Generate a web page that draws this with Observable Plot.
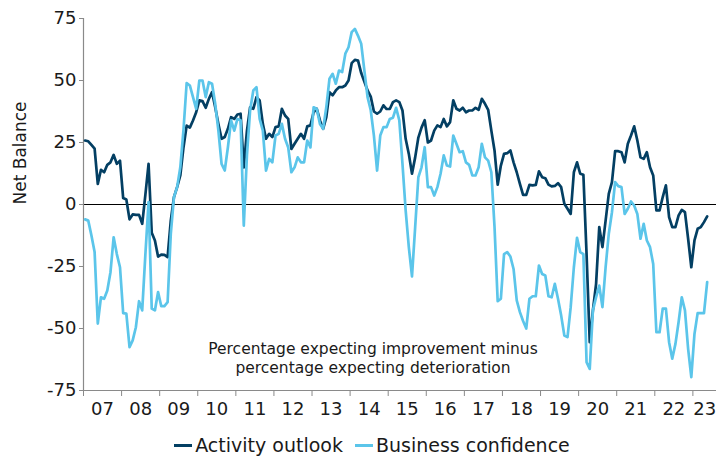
<!DOCTYPE html>
<html><head><meta charset="utf-8">
<script src="https://cdn.jsdelivr.net/npm/d3@7"></script>
<script src="https://cdn.jsdelivr.net/npm/@observablehq/plot@0.6"></script>
<style>
body{margin:0;background:#fff;font-family:"DejaVu Sans",Verdana,sans-serif;overflow:hidden;}
#chart svg{display:block;}
#legend{display:flex;justify-content:center;align-items:center;font-size:19px;line-height:22px;color:#1a1a1a;height:30px;margin-top:5px;padding-left:27px;}
#legend .item{display:flex;align-items:center;margin:0 6px;}
#legend .sw{display:inline-block;width:18px;height:3px;margin-right:3px;}
</style></head><body>
<div id="chart"></div>
<div id="legend"></div>
<script>
// Monthly series starting January 2007
const startYear = 2007;
const activity = [
25.8,25.5,24,22.5,8.3,14,13,16,17,20,16.4,17.7,
2.6,2,-6,-4,-4.2,-4.2,-7.8,4,16.4,-11.4,-14.5,-21,
-20.2,-20.3,-21.2,-6.5,3,7,11.7,23,31.8,31,33.9,37.2,
42,41.7,39,42.6,45.3,39.2,32.5,26.5,27.2,30.5,35.2,34.5,
36.3,36.6,15,29.8,39.2,38.6,43.3,42,32.5,26.5,28.5,27.2,
31.2,31.5,38.6,35.9,34.5,22.4,24.5,26.5,28.5,26.5,31.5,31.9,
37.2,38.6,33.9,30.5,35.2,45.3,44,46,47.3,47.3,48,50,
57,58.3,58,53,49.5,46,43.5,37.5,36.6,37.5,40,38.5,
38.5,41.3,42,41.3,37.9,26.5,20.4,12.4,19,27,31,34,
25,25.8,29.8,31.9,31.2,34.5,31.5,33.2,42,38.6,37.9,39,
37.2,37.9,37.9,39,38.2,42.6,40.6,38.2,29.8,21.8,8,15.7,
20.4,20.7,21.8,17,13,8.3,3.9,3.9,7.9,7.7,7.9,13.4,
11,10.6,8,7.3,7.5,8.6,7,0.3,-1.7,-3.8,13,17,
12.4,12,-20,-55.5,-42.7,-32,-9.1,-17.2,-6.5,4.3,9,21.5,
21.5,21.1,17,24.5,27.8,31.5,25.8,19,18.4,21.1,15,11.7,
-2.4,-2.4,3,7.7,-5.1,-9.1,-9.1,-4.4,-2.2,-3.1,-13.8,-25.3,
-14.5,-9.8,-9.1,-7.1,-4.8
];
const business = [
-6,-6.5,-12.5,-19.2,-48,-37.4,-38,-34.7,-27.3,-13.2,-20,-25.3,
-43.8,-44,-57.5,-54.8,-49.5,-39,-42.7,-20,1,-42,-42.7,-35.3,
-41,-41,-39.4,-12,3,7,15,30,49,48,43.3,38.6,
50,50,43.3,49.3,48.7,40.6,29.8,16.4,13.7,23.1,33.9,29.8,
34.5,34,-8.5,20,38,46,47.3,34.5,29.8,13.7,18.4,17,
27.8,28.5,32.5,26.5,23,13,15,19,17,17,25.8,23,
39.2,38.5,32.5,30.5,39.2,50.7,52.7,48.7,54,53.4,60.8,63.4,
69.5,70.8,68,64.8,54,43.3,38,27.8,13.7,27.8,31.2,31.2,
34.5,35,39,33.9,16.4,-2.4,-17.2,-29,-9.1,11,15,23.1,
7,7,3.6,7,12.4,19.8,15.7,15.3,27.8,24.5,21.1,21.5,
17,16,11.7,11.7,15,24.5,19,17.7,13,-9,-39,-38,
-20,-19.2,-21,-26,-38.7,-43.4,-47,-50,-38,-37,-37,-24.6,
-28,-28.6,-37,-37.4,-32,-38,-44.8,-52.8,-53.5,-41.4,-25.3,-13.4,
-19.2,-20,-63.6,-66.3,-42.7,-37.4,-32.7,-41.4,-25.3,-11.8,-3.1,9,
7.4,7,-3.8,-1.7,1.2,-0.4,-3.8,-13.8,-7.8,-14.5,-17.2,-24,
-51.5,-51.5,-42,-42,-55.5,-62.2,-56.2,-47.4,-37.4,-42.7,-58.2,-69.6,
-52.2,-43.8,-43.8,-43.8,-31.3
];
const seriesNames = ["Activity outlook", "Business confidence"];
const seriesColors = ["#033f63", "#5bc5ea"];
const yearTicks = d3.range(2007, 2024);
const yearLabels = ["07","08","09","10","11","12","13","14","15","16","17","18","19","20","21","22","23"];
const yTicks = [-75, -50, -25, 0, 25, 50, 75];
const noteText = "Percentage expecting improvement minus\npercentage expecting deterioration";
const yTitle = "Net Balance";

const xEnd = 2023.62;
const toRows = (arr, name) => arr.map((v, i) => ({t: startYear + (i + 0.5) / 12, v, s: name}));
const rowsA = toRows(activity, seriesNames[0]);
const rowsB = toRows(business, seriesNames[1]);
const labelPos = yearTicks.map(y => (y + Math.min(y + 1, xEnd)) / 2);
const labelMap = new Map(labelPos.map((p, i) => [p, yearLabels[i]]));

const chart = Plot.plot({
  width: 717, height: 425,
  marginLeft: 83, marginRight: 1, marginTop: 18, marginBottom: 35,
  style: {fontFamily: "'DejaVu Sans', Verdana, sans-serif", fontSize: "18px", color: "#1a1a1a", background: "#fff"},
  x: {domain: [startYear, xEnd]},
  y: {domain: [-75, 75]},
  marks: [
    Plot.ruleY([0], {stroke: "#000", strokeWidth: 1}),
    Plot.ruleX([startYear], {stroke: "#8a8a8a", strokeWidth: 1.2}),
    Plot.ruleY([-75], {stroke: "#8a8a8a", strokeWidth: 1.2}),
    Plot.axisY({ticks: yTicks, tickSize: 4, tickPadding: 3, stroke: "#8a8a8a", label: null, tickFormat: d => String(d), fontSize: 18}),
    Plot.axisX({ticks: yearTicks, tickSize: 6, tickFormat: () => "", stroke: "#8a8a8a", label: null}),
    Plot.axisX({ticks: labelPos, tickSize: 0, tickPadding: 12, tickFormat: d => labelMap.get(d), label: null, fontSize: 18}),
    Plot.line(rowsA, {x: "t", y: "v", stroke: seriesColors[0], strokeWidth: 2.7}),
    Plot.line(rowsB, {x: "t", y: "v", stroke: seriesColors[1], strokeWidth: 2.7}),
    Plot.text([yTitle], {frameAnchor: "left", rotate: -90, dx: -63, fontSize: 17, fill: "#1a1a1a"}),
    Plot.text([noteText], {frameAnchor: "bottom", dx: -27, dy: -33.5, lineAnchor: "middle", fontSize: 15.5, lineHeight: 1.23, fill: "#1a1a1a"})
  ]
});
document.getElementById("chart").appendChild(chart);

const legend = document.getElementById("legend");
seriesNames.forEach((n, i) => {
  const it = document.createElement("span");
  it.className = "item";
  const sw = document.createElement("span");
  sw.className = "sw";
  sw.style.background = seriesColors[i];
  it.appendChild(sw);
  it.appendChild(document.createTextNode(n));
  legend.appendChild(it);
});
</script>
</body></html>
